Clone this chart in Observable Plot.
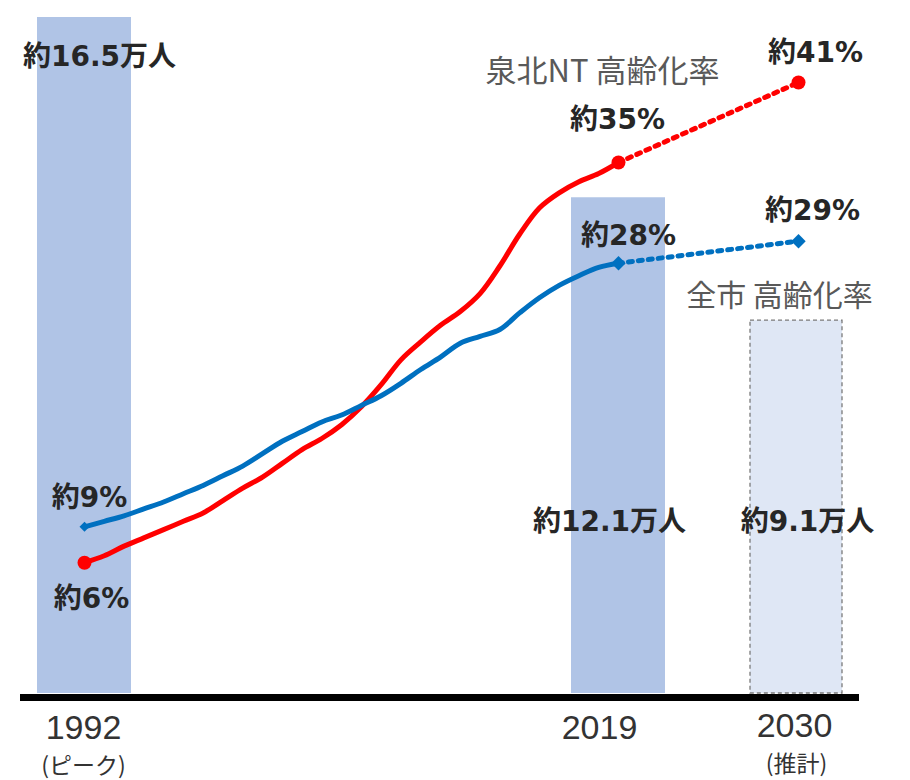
<!DOCTYPE html>
<html>
<head>
<meta charset="utf-8">
<script src="https://cdn.jsdelivr.net/npm/d3@7"></script>
<script src="https://cdn.jsdelivr.net/npm/@observablehq/plot@0.6"></script>
<style>
  html, body { margin: 0; padding: 0; background: #ffffff; }
  #chart { position: relative; width: 910px; height: 780px; overflow: hidden; background: #ffffff; }
  #chart svg { position: absolute; left: 0; top: 0; }
</style>
</head>
<body>
<div id="chart"></div>
<script>
// ---- data ----
const years = [1992, 1993, 1994, 1995, 1996, 1997, 1998, 1999, 2000, 2001, 2002, 2003, 2004, 2005,
               2006, 2007, 2008, 2009, 2010, 2011, 2012, 2013, 2014, 2015, 2016, 2017, 2018, 2019];
// 泉北NT 高齢化率 (%)
const senbokuRate = [6.0, 6.5, 7.2, 7.8, 8.4, 9.0, 9.6, 10.5, 11.4, 12.2, 13.2, 14.2, 15.0, 16.0,
                     17.3, 18.9, 20.7, 22.0, 23.2, 24.2, 25.5, 27.5, 29.8, 31.7, 32.8, 33.6, 34.2, 35.0];
// 全市 高齢化率 (%)
const cityRate = [8.6, 9.0, 9.4, 9.9, 10.4, 11.0, 11.6, 12.3, 13.0, 13.9, 14.8, 15.5, 16.2, 16.7,
                  17.4, 18.1, 19.0, 20.0, 20.9, 21.9, 22.4, 22.9, 24.1, 25.2, 26.1, 26.8, 27.4, 27.7];
// projections 2019 -> 2030
const projYears = [2019, 2030];
const senbokuProj = [35.0, 40.8];
const cityProj = [27.7, 29.3];

// population bars (万人)
const barYears = [1992, 2019, 2030];
const population = [16.5, 12.1, 9.1];
const barEstimated = [false, false, true];
const barLabels = ["約16.5万人", "約12.1万人", "約9.1万人"];

// tick labels
const yearLabels = ["1992", "2019", "2030"];
const yearNotes = ["(ピーク)", "", "(推計)"];

// rate labels
const rateLabels = {s1992: "約6%", c1992: "約9%", s2019: "約35%", c2019: "約28%", s2030: "約41%", c2030: "約29%"};
const seriesNames = ["泉北NT 高齢化率", "全市 高齢化率"];

// ---- build tables ----
const senbokuData = years.map((y, i) => ({year: y, rate: senbokuRate[i]}));
const cityData = years.map((y, i) => ({year: y, rate: cityRate[i]}));
const senbokuProjData = projYears.map((y, i) => ({year: y, rate: senbokuProj[i]}));
const cityProjData = projYears.map((y, i) => ({year: y, rate: cityProj[i]}));
const bars = barYears.map((y, i) => ({year: y, pop: population[i], est: barEstimated[i], label: barLabels[i],
                                      tick: yearLabels[i], note: yearNotes[i]}));

const W = 910, H = 780;
const xScale = {type: "linear", domain: [1992, 2019, 2030], range: [84, 618, 798], axis: null};
const boldFont = `"DejaVu Sans", "Noto Sans CJK JP", sans-serif`;
const cjkFont = `"Noto Sans CJK JP", "Noto Sans", sans-serif`;
const tickFont = `"Liberation Sans Narrow", "Liberation Sans", sans-serif`;
const labelColor = "#262626";

function boldText(datum, xf, yf, text, dx, dy) {
  return Plot.text([datum], {x: xf, y: yf, text: () => text, dx, dy, fontSize: 28, fontWeight: "bold",
    fontFamily: boldFont, fill: labelColor, textAnchor: "middle"});
}
function tickText(datum, text, dx, dy, size, font) {
  return Plot.text([datum], {x: "year", y: () => 0, text: () => text, dx, dy, fontSize: size,
    fontFamily: font, fill: "#333", textAnchor: "middle"});
}

// ---- plot 1: population bars + axis + x labels ----
const barPlot = Plot.plot({
  width: W, height: H,
  marginLeft: 20, marginRight: 51, marginTop: 0, marginBottom: H - 693,
  x: xScale,
  y: {domain: [0, 16.5], range: [693, 17], axis: null},
  style: {background: "transparent", overflow: "visible"},
  marks: [
    Plot.rect(bars.filter(d => !d.est), {x1: "year", x2: "year", y1: 0, y2: "pop", fill: "#b0c4e6",
      insetLeft: -47, insetRight: -47}),
    Plot.rect(bars.filter(d => d.est), {x1: "year", x2: "year", y1: 0, y2: "pop", fill: "#dfe7f5",
      stroke: "#7a7a7a", strokeWidth: 1.3, strokeDasharray: "4,3", insetLeft: -48, insetRight: -44}),
    Plot.ruleY([0], {stroke: "#000", strokeWidth: 7, dy: 4}),
    // bar value labels
    boldText(bars[0], "year", "pop", bars[0].label, 15, 40),
    boldText(bars[1], "year", () => 0, bars[1].label, -9, -171),
    boldText(bars[2], "year", () => 0, bars[2].label, 9, -171),
    // x tick labels
    tickText(bars[0], bars[0].tick, -1, 35, 34, tickFont),
    tickText(bars[1], bars[1].tick, -19, 35, 34, tickFont),
    tickText(bars[2], bars[2].tick, -4, 33, 34, tickFont),
    tickText(bars[0], bars[0].note, -1, 73, 23, cjkFont),
    tickText(bars[2], bars[2].note, -2, 71, 23, cjkFont)
  ]
});

// ---- plot 2: aging-rate lines ----
const s0 = senbokuData[0], s1 = senbokuData[senbokuData.length - 1], s2 = senbokuProjData[1];
const c0 = cityData[0], c1 = cityData[cityData.length - 1], c2 = cityProjData[1];

const linePlot = Plot.plot({
  width: W, height: H,
  marginLeft: 0, marginRight: 0, marginTop: 0, marginBottom: 0,
  x: xScale,
  y: {domain: [0, 40], range: [645, 93], axis: null},
  style: {background: "transparent", overflow: "visible"},
  marks: [
    Plot.line(senbokuProjData, {x: "year", y: "rate", stroke: "#ff0000", strokeWidth: 5, strokeDasharray: "4,6"}),
    Plot.line(cityProjData, {x: "year", y: "rate", stroke: "#0070c0", strokeWidth: 5, strokeDasharray: "4,6"}),
    Plot.line(senbokuData, {x: "year", y: "rate", stroke: "#ff0000", strokeWidth: 5, curve: "catmull-rom"}),
    Plot.line(cityData, {x: "year", y: "rate", stroke: "#0070c0", strokeWidth: 5, curve: "catmull-rom"}),
    Plot.dot([s0, s1, s2], {x: "year", y: "rate", r: 7, fill: "#ff0000", stroke: "none"}),
    Plot.dot([c0], {x: "year", y: "rate", r: 4.5, symbol: "diamond2", fill: "#0070c0", stroke: "none"}),
    Plot.dot([c1, c2], {x: "year", y: "rate", r: 6.5, symbol: "diamond2", fill: "#0070c0", stroke: "none"}),
    // rate labels
    boldText(s0, "year", "rate", rateLabels.s1992, 7, 36),
    boldText(c0, "year", "rate", rateLabels.c1992, 5, -29),
    boldText(s1, "year", "rate", rateLabels.s2019, -1, -42),
    boldText(c1, "year", "rate", rateLabels.c2019, 10, -27),
    boldText(s2, "year", "rate", rateLabels.s2030, 17, -29),
    boldText(c2, "year", "rate", rateLabels.c2030, 14, -30),
    // series names
    Plot.text([s1], {x: "year", y: "rate", text: () => seriesNames[0], dx: -16, dy: -90, fontSize: 31,
      fontFamily: cjkFont, fill: "#595959", textAnchor: "middle"}),
    Plot.text([c2], {x: "year", y: "rate", text: () => seriesNames[1], dx: -19, dy: 55, fontSize: 30,
      fontFamily: cjkFont, fill: "#595959", textAnchor: "middle"})
  ]
});

const chart = document.getElementById("chart");
chart.appendChild(barPlot);
chart.appendChild(linePlot);
</script>
</body>
</html>
